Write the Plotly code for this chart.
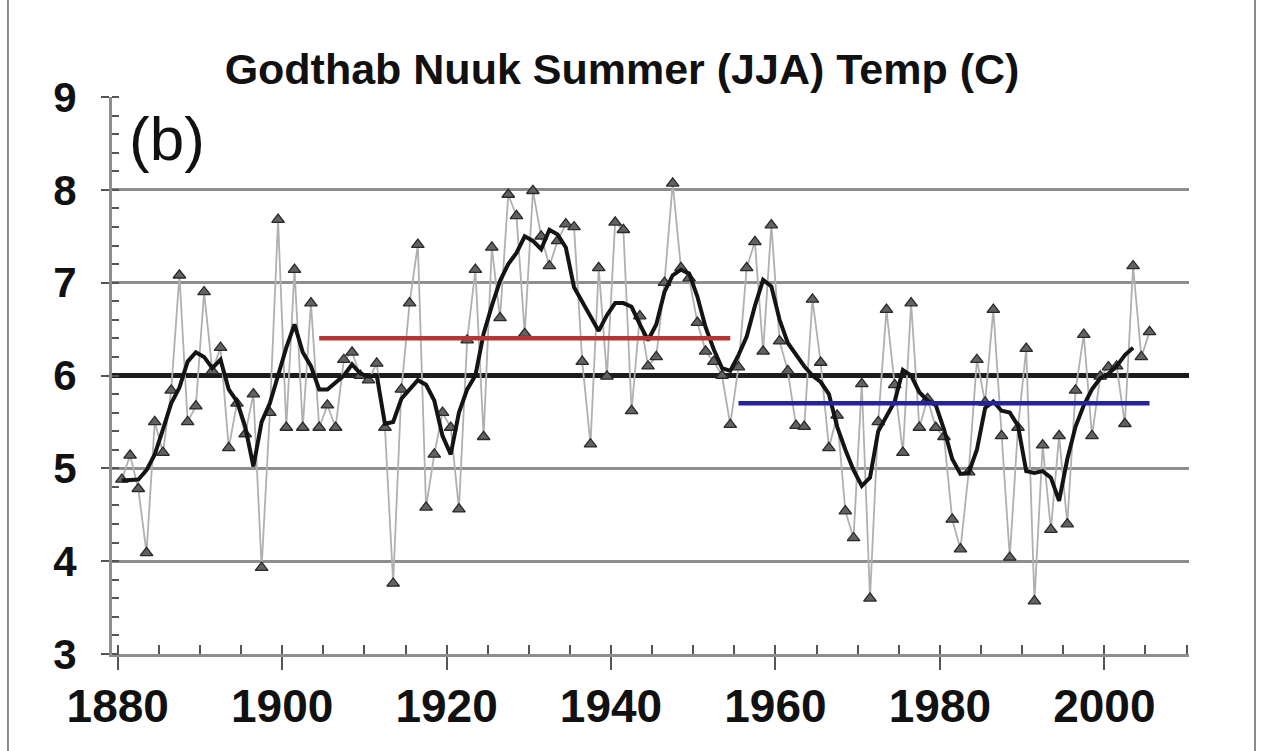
import plotly.graph_objects as go

# ---------------- data ----------------
years = list(range(1880, 2006))
temps = [
    4.88, 5.14, 4.78, 4.09, 5.50, 5.17, 5.84, 7.08, 5.50, 5.67,   # 1880-1889
    6.90, 6.05, 6.30, 5.22, 5.70, 5.37, 5.80, 3.93, 5.60, 7.68,   # 1890-1899
    5.44, 7.14, 5.44, 6.78, 5.44, 5.68, 5.44, 6.17, 6.25, 6.00,   # 1900-1909
    5.95, 6.13, 5.44, 3.76, 5.85, 6.78, 7.41, 4.58, 5.15, 5.60,   # 1910-1919
    5.44, 4.56, 6.38, 7.14, 5.34, 7.38, 6.62, 7.95, 7.72, 6.45,   # 1920-1929
    7.99, 7.50, 7.18, 7.45, 7.63, 7.60, 6.15, 5.26, 7.16, 5.99,   # 1930-1939
    7.65, 7.57, 5.62, 6.64, 6.10, 6.20, 7.00, 8.07, 7.16, 7.05,   # 1940-1949
    6.57, 6.26, 6.15, 6.00, 5.47, 6.09, 7.16, 7.44, 6.26, 7.62,   # 1950-1959
    6.37, 6.05, 5.46, 5.45, 6.82, 6.14, 5.22, 5.57, 4.54, 4.25,   # 1960-1969
    5.91, 3.60, 5.50, 6.71, 5.90, 5.17, 6.78, 5.44, 5.75, 5.44,   # 1970-1979
    5.34, 4.45, 4.13, 4.96, 6.17, 5.71, 6.71, 5.35, 4.04, 5.44,   # 1980-1989
    6.29, 3.57, 5.25, 4.34, 5.35, 4.40, 5.84, 6.44, 5.35, 5.99,   # 1990-1999
    6.09, 6.10, 5.48, 7.18, 6.20, 6.47,                           # 2000-2005
]

smooth_years = list(range(1880, 2004))
smooth_vals = [
    4.87, 4.87, 4.88, 4.98, 5.15, 5.42, 5.70, 5.87, 6.15, 6.25,   # 1880-1889
    6.20, 6.08, 6.17, 5.85, 5.72, 5.45, 5.02, 5.50, 5.70, 6.00,   # 1890-1899
    6.30, 6.55, 6.25, 6.10, 5.85, 5.85, 5.92, 6.00, 6.12, 6.02,   # 1900-1909
    5.99, 6.00, 5.48, 5.50, 5.75, 5.85, 5.95, 5.90, 5.73, 5.35,   # 1910-1919
    5.15, 5.60, 5.85, 6.00, 6.45, 6.75, 7.02, 7.20, 7.32, 7.50,   # 1920-1929
    7.45, 7.36, 7.57, 7.52, 7.38, 6.95, 6.80, 6.65, 6.48, 6.65,   # 1930-1939
    6.78, 6.78, 6.74, 6.55, 6.38, 6.55, 6.90, 7.08, 7.14, 7.10,   # 1940-1949
    6.85, 6.52, 6.28, 6.08, 6.05, 6.22, 6.42, 6.75, 7.03, 6.96,   # 1950-1959
    6.60, 6.35, 6.22, 6.10, 6.00, 5.93, 5.80, 5.45, 5.20, 4.98,   # 1960-1969
    4.81, 4.90, 5.40, 5.57, 5.72, 6.06, 6.00, 5.82, 5.73, 5.68,   # 1970-1979
    5.42, 5.10, 4.94, 4.95, 5.20, 5.65, 5.72, 5.62, 5.60, 5.46,   # 1980-1989
    4.97, 4.95, 4.97, 4.90, 4.65, 5.10, 5.45, 5.68, 5.85, 5.97,   # 1990-1999
    6.02, 6.10, 6.22, 6.30,                                       # 2000-2003
]

overall_mean = 6.0
early_period = [1904, 1954]
early_mean = 6.4
late_period = [1955, 2005]
late_mean = 5.7

x_ticks = [1880, 1900, 1920, 1940, 1960, 1980, 2000]
y_ticks = [3, 4, 5, 6, 7, 8, 9]
x_range = [1879.3, 2010.3]
y_range = [3, 9]

# points are drawn at mid-year
MID = 0.5

fig = go.Figure()

# overall mean across the whole axis
fig.add_trace(go.Scatter(
    x=x_range, y=[overall_mean, overall_mean], mode="lines",
    line=dict(color="#1c1c1c", width=5), hoverinfo="skip", cliponaxis=False,
))

fig.add_trace(go.Scatter(
    x=[y + MID for y in years], y=temps, mode="lines+markers",
    line=dict(color="#b0b0b0", width=1.8),
    marker=dict(symbol="triangle-up", size=11, color="#626262",
                line=dict(color="#2a2a2a", width=1.3)),
    hoverinfo="x+y",
))

fig.add_trace(go.Scatter(
    x=[y + MID for y in smooth_years], y=smooth_vals, mode="lines",
    line=dict(color="#141414", width=4), hoverinfo="skip",
))

fig.add_trace(go.Scatter(
    x=[p + MID for p in early_period], y=[early_mean, early_mean], mode="lines",
    line=dict(color="#b83434", width=4.5), hoverinfo="skip",
))
fig.add_trace(go.Scatter(
    x=[p + MID for p in late_period], y=[late_mean, late_mean], mode="lines",
    line=dict(color="#23239c", width=4.5), hoverinfo="skip",
))

grid_gray = "#8e8e8e"
fig.update_xaxes(
    range=x_range, tickvals=x_ticks, ticktext=[str(t) for t in x_ticks],
    showgrid=False, zeroline=False, automargin=False,
    showline=True, linecolor=grid_gray, linewidth=3,
    ticks="outside", ticklen=13, tickwidth=2, tickcolor="#555555",
    minor=dict(dtick=5, tick0=1880, ticks="inside", ticklen=9, tickwidth=2, tickcolor="#555555"),
    tickfont=dict(family="Liberation Sans, Arial", size=46, color="#111111", weight="bold"),
    ticklabelstandoff=-3,
)
fig.update_yaxes(
    range=y_range, tickvals=y_ticks, ticktext=[str(t) for t in y_ticks],
    showgrid=True, gridcolor=grid_gray, gridwidth=3, zeroline=False, automargin=False,
    showline=True, linecolor=grid_gray, linewidth=3,
    ticks="outside", ticklen=8, tickwidth=2, tickcolor="#555555",
    minor=dict(dtick=0.2, tick0=3, ticks="inside", ticklen=7, tickwidth=2, tickcolor="#555555"),
    tickfont=dict(family="Liberation Sans, Arial", size=42, color="#111111", weight="bold"),
    ticklabelstandoff=16,
)

fig.add_annotation(
    text="(b)", xref="paper", yref="paper", x=0.051, y=0.926,
    xanchor="center", yanchor="middle", showarrow=False,
    font=dict(family="Liberation Sans, Arial", size=62, color="#111111"),
)

# outer frame lines at left and right edges of the picture
for xp in (-0.0966, 1.0613):
    fig.add_shape(type="line", xref="paper", yref="paper", x0=xp, x1=xp,
                  y0=-0.18, y1=1.18, line=dict(color="#8a8a8a", width=2))

fig.update_layout(
    width=1264, height=751,
    margin=dict(l=112, r=75, t=97, b=97),
    plot_bgcolor="white", paper_bgcolor="white",
    showlegend=False,
    title=dict(
        text="<b>Godthab Nuuk Summer (JJA) Temp (C)</b>",
        x=622 / 1264, xanchor="center", xref="container",
        y=1 - 69 / 751, yanchor="middle", yref="container",
        font=dict(family="Liberation Sans, Arial", size=43, color="#111111"),
    ),
)

fig.write_html("out.html", config={"displayModeBar": False},
               post_script="document.body.style.margin='0';")
